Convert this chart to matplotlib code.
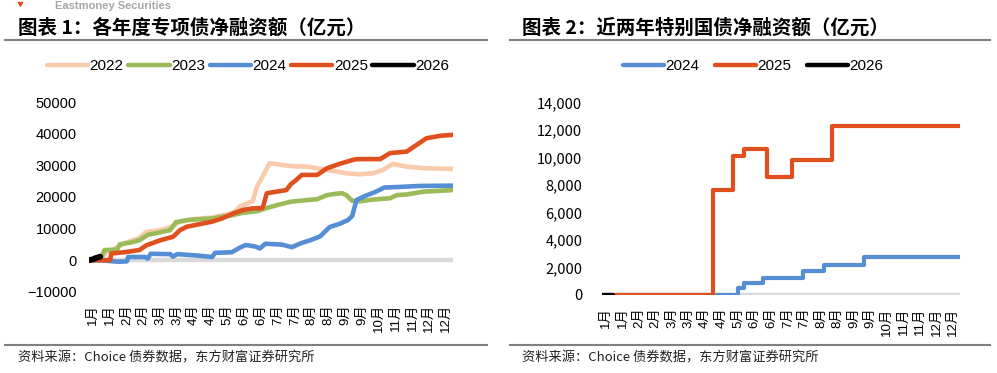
import matplotlib
matplotlib.use("Agg")
import matplotlib.pyplot as plt
from matplotlib.lines import Line2D

plt.rcParams["font.family"] = ["Liberation Sans", "Noto Sans CJK SC", "DejaVu Sans"]

# x 轴标签（每 12 个交易日一个）
month_labels = ["1月", "1月", "2月", "2月", "3月", "3月", "4月", "4月", "5月", "6月", "6月",
                "7月", "7月", "8月", "8月", "9月", "9月", "10月", "11月", "11月", "12月", "12月"]
tick_pos = [3 + 12 * i for i in range(len(month_labels))]

# --- 图表1：各年度专项债净融资额（亿元） ---
x_2022 = [0, 8, 12, 20, 26, 36, 41, 51, 60, 65, 75, 88, 103, 108, 113, 117, 120, 124, 129,
          144, 156, 170, 184, 193, 203, 210, 217, 227, 241, 260]
y_2022 = [0, 0, 2500, 4000, 5500, 7000, 9000, 9500, 10800, 12200, 13000, 13500, 15000, 17000,
          18000, 18700, 23300, 26500, 30700, 29800, 29600, 28600, 27500, 27200, 27500, 28600,
          30500, 29600, 29100, 28900]

x_2023 = [0, 8, 11, 20, 22, 30, 36, 42, 58, 62, 70, 88, 103, 110, 120, 127, 134, 144, 155,
          163, 170, 176, 181, 184, 188, 193, 203, 215, 220, 227, 239, 260]
y_2023 = [0, 0, 3200, 3300, 5000, 5600, 6300, 8000, 9500, 12000, 12700, 13200, 14300, 15000,
          15500, 16500, 17400, 18500, 19000, 19300, 20600, 21000, 21200, 20500, 18800, 18600,
          19200, 19600, 20600, 20800, 21700, 22200]

x_2024 = [0, 8, 15, 21, 27, 28, 40, 42, 44, 58, 60, 63, 76, 88, 90, 102, 108, 112, 119, 122,
          126, 138, 145, 151, 158, 165, 172, 179, 185, 188, 191, 197, 204, 211, 222, 236, 260]
y_2024 = [0, 0, -300, -500, -400, 1000, 1000, 500, 2000, 1900, 1100, 1900, 1500, 1000, 2300,
          2500, 4000, 4800, 4300, 3700, 5200, 4900, 4100, 5300, 6300, 7500, 10500, 11500, 12700,
          14000, 19000, 20300, 21500, 23000, 23200, 23500, 23600]

x_2025 = [0, 15, 16, 27, 36, 41, 51, 60, 65, 70, 88, 95, 103, 110, 117, 124, 127, 134, 141,
          144, 148, 152, 163, 170, 179, 188, 191, 208, 215, 227, 234, 241, 251, 260]
y_2025 = [0, 0, 2100, 2600, 3200, 4700, 6300, 7400, 9500, 10600, 12200, 13200, 14800, 15900,
          16400, 16500, 21200, 21700, 22200, 24000, 25400, 27000, 27000, 29100, 30500, 31700,
          32000, 32000, 33900, 34400, 36500, 38600, 39400, 39700]

x_2026 = [0, 3, 5, 8]
y_2026 = [0, 300, 700, 1100]

# --- 图表2：近两年特别国债净融资额（亿元） ---
sp_x_2024 = [0, 99, 103, 117, 146, 161, 190, 260]
sp_y_2024 = [0, 490, 850, 1200, 1770, 2200, 2750, 2750]
sp_x_2025 = [0, 81, 95, 103, 120, 138, 167, 260]
sp_y_2025 = [0, 7600, 10100, 10600, 8600, 9800, 12300, 12300]
sp_x_2026 = [0, 8]
sp_y_2026 = [0, 0]

colors = {"2022": "#F8CBAD", "2023": "#9BBB59", "2024": "#558ED5",
          "2025": "#E0501E", "2026": "#000000"}

W, H = 997, 373
fig = plt.figure(figsize=(W / 100, H / 100), dpi=100)


def fx(px):
    return px / W


def fy(py):
    return 1 - py / H


ax1 = fig.add_axes([fx(89), fy(291.7), fx(453) - fx(89), fy(102.3) - fy(291.7)])
ax2 = fig.add_axes([fx(601.7), fy(295), fx(960) - fx(601.7), fy(102.3) - fy(295)])

# left
ax1.axhline(0, color="#D9D9D9", lw=3.2, zorder=1)
for yr, xs, ys in [("2022", x_2022, y_2022), ("2023", x_2023, y_2023), ("2024", x_2024, y_2024),
                   ("2025", x_2025, y_2025), ("2026", x_2026, y_2026)]:
    ax1.plot(xs, ys, color=colors[yr], lw=3.3 if yr != "2026" else 4.2,
             solid_capstyle="round", solid_joinstyle="round", zorder=2)
ax1.set_xlim(0, 260)
ax1.set_ylim(-10000, 50000)
ax1.set_yticks(range(-10000, 50001, 10000))
ax1.set_yticklabels([f"{v}".replace("-", "\u2212") for v in range(-10000, 50001, 10000)],
                    fontsize=10.5)

# right
ax2.axhline(0, color="#D9D9D9", lw=3.2, zorder=1)
for yr, xs, ys in [("2024", sp_x_2024, sp_y_2024), ("2025", sp_x_2025, sp_y_2025),
                   ("2026", sp_x_2026, sp_y_2026)]:
    ax2.plot(xs, ys, color=colors[yr], lw=3, drawstyle="steps-post",
             solid_capstyle="round", solid_joinstyle="round", zorder=2)
ax2.set_xlim(0, 260)
ax2.set_ylim(0, 14000)
ax2.set_yticks(range(0, 14001, 2000))
ax2.set_yticklabels([f"{v:,}" for v in range(0, 14001, 2000)], fontsize=10.5,
                    family=["Noto Sans CJK SC", "DejaVu Sans"], weight="medium")

for ax, ypad in [(ax1, 9), (ax2, 14)]:
    for s in ax.spines.values():
        s.set_visible(False)
    ax.set_xticks(tick_pos)
    ax.set_xticklabels(month_labels, rotation=90, fontsize=9.5,
                       family=["Liberation Sans", "Noto Sans CJK SC"], va="top", ha="center")
    ax.tick_params(axis="x", length=0, pad=9)
    ax.tick_params(axis="y", length=0, pad=ypad)
    ax.patch.set_visible(False)

# legends
h1 = [Line2D([0], [0], color=colors[k], lw=3.2, solid_capstyle="round") for k in
      ["2022", "2023", "2024", "2025", "2026"]]
fig.legend(h1, ["2022", "2023", "2024", "2025", "2026"], loc="center", ncol=5,
           bbox_to_anchor=(fx(248), fy(66)), frameon=False, fontsize=11,
           handlelength=2.7, handletextpad=0.1, columnspacing=0.3)
h2 = [Line2D([0], [0], color=colors[k], lw=3.2, solid_capstyle="round") for k in
      ["2024", "2025", "2026"]]
fig.legend(h2, ["2024", "2025", "2026"], loc="center", ncol=3,
           bbox_to_anchor=(fx(753), fy(66)), frameon=False, fontsize=11,
           handlelength=2.7, handletextpad=0.1, columnspacing=1.0)

# header / footer
cjk = ["Noto Sans CJK SC", "DejaVu Sans"]
fig.text(fx(55), fy(1), "Eastmoney Securities", fontsize=8, weight="bold",
         color="#A6A6A6", va="top", ha="left")
fig.text(fx(20), fy(1), "\u25bc", fontsize=5, color="#E0501E", va="top", ha="center",
         family=cjk)
fig.text(fx(18), fy(28), "图表 1：各年度专项债净融资额（亿元）", fontsize=14, weight="bold",
         va="center", ha="left", family=cjk)
fig.text(fx(522), fy(28), "图表 2：近两年特别国债净融资额（亿元）", fontsize=14, weight="bold",
         va="center", ha="left", family=cjk)
for x0, x1 in [(5, 487), (510, 990)]:
    fig.add_artist(Line2D([fx(x0), fx(x1)], [fy(40), fy(40)], color="#808080", lw=1.5))
    fig.add_artist(Line2D([fx(x0), fx(x1)], [fy(345), fy(345)], color="#808080", lw=1.5))
fig.text(fx(18), fy(358), "资料来源：Choice 债券数据，东方财富证券研究所", fontsize=9.5,
         va="center", ha="left", family=cjk, color="#222222")
fig.text(fx(522), fy(358), "资料来源：Choice 债券数据，东方财富证券研究所", fontsize=9.5,
         va="center", ha="left", family=cjk, color="#222222")

fig.savefig("out.png", dpi=100)
